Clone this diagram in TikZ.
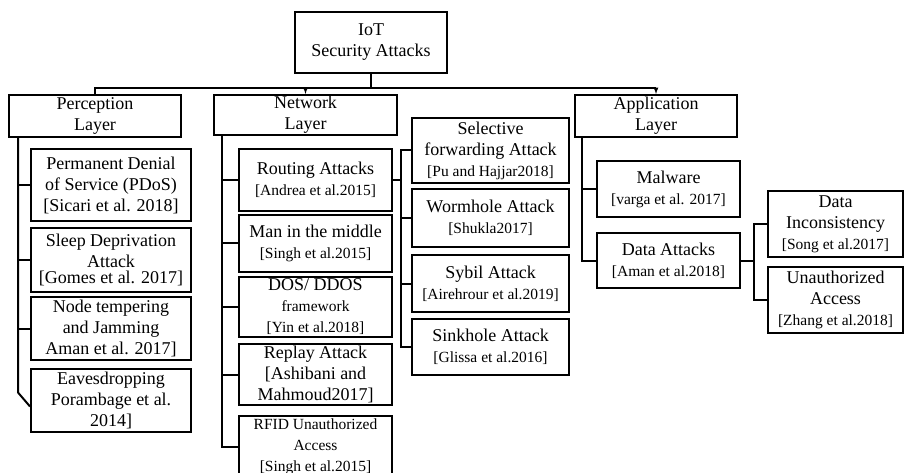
\documentclass[tikz,border=0pt]{standalone}
\usepackage{fontspec}
\setmainfont{Liberation Serif}

\newcommand{\srcref}[1]{{\fontsize{15.5}{18}\selectfont #1}}

\begin{document}
\begin{tikzpicture}[x=1pt, y=-1pt, line width=2pt,
    box/.style={draw, align=center, inner sep=0pt, font=\fontsize{18}{21}\selectfont}]
    \useasboundingbox (0,0) rectangle (905,473);

    % Root and the three layers
    \node[box, minimum width=152pt, minimum height=61pt] (root) at (371,42.5) {IoT\\Security Attacks};
    \node[box, minimum width=172pt, minimum height=42pt] (perc) at (95,116) {Perception\\Layer};
    \node[box, minimum width=183pt, minimum height=40pt] (net) at (305.5,115) {Network\\Layer};
    \node[box, minimum width=162pt, minimum height=42pt] (app) at (656,116) {Application\\Layer};

    % Perception layer
    \node[box, minimum width=160pt, minimum height=72pt] (pdos) at (111,185) {Permanent Denial\\of Service (PDoS)\\{}[Sicari et al. 2018]};
    \node[box, minimum width=160pt, minimum height=64pt] (sleep) at (111,260) {Sleep Deprivation\\Attack\\[-5pt]{}[Gomes et al. 2017]};
    \node[box, minimum width=160pt, minimum height=63pt] (tamper) at (111,328.5) {Node tempering\\and Jamming\\Aman et al. 2017]};
    \node[box, minimum width=160pt, minimum height=63pt] (eaves) at (111,400.5) {Eavesdropping\\Porambage et al.\\2014]};

    % Network layer
    \node[box, minimum width=153pt, minimum height=62pt] (routing) at (315.5,180) {Routing Attacks\\\srcref{[Andrea et al.2015]}};
    \node[box, minimum width=153pt, minimum height=57pt] (mitm) at (315.5,243.5) {Man in the middle\\\srcref{[Singh et al.2015]}};
    \node[box, minimum width=153pt, minimum height=60pt] (dos) at (315.5,307) {DOS/ DDOS\\\srcref{framework}\\\srcref{[Yin et al.2018]}};
    \node[box, minimum width=153pt, minimum height=61pt] (replay) at (315.5,374.5) {Replay Attack\\{}[Ashibani and\\Mahmoud2017]};
    \node[box, minimum width=153pt, minimum height=62pt] (rfid) at (315.5,447) {\srcref{RFID Unauthorized}\\\srcref{Access}\\\srcref{[Singh et al.2015]}};

    % Routing attacks
    \node[box, minimum width=157pt, minimum height=65pt] (sel) at (490.5,150.5) {Selective\\forwarding Attack\\\srcref{[Pu and Hajjar2018]}};
    \node[box, minimum width=157pt, minimum height=58pt] (worm) at (490.5,218) {Wormhole Attack\\\srcref{[Shukla2017]}};
    \node[box, minimum width=157pt, minimum height=57pt] (sybil) at (490.5,283.5) {Sybil Attack\\\srcref{[Airehrour et al.2019]}};
    \node[box, minimum width=157pt, minimum height=56pt] (sink) at (490.5,347) {Sinkhole Attack\\\srcref{[Glissa et al.2016]}};

    % Application layer
    \node[box, minimum width=143pt, minimum height=56pt] (malware) at (668.5,189) {Malware\\\srcref{[varga et al. 2017]}};
    \node[box, minimum width=143pt, minimum height=55pt] (data) at (668.5,260.5) {Data Attacks\\\srcref{[Aman et al.2018]}};
    \node[box, minimum width=135pt, minimum height=66pt] (incons) at (835.5,224) {Data\\Inconsistency\\\srcref{[Song et al.2017]}};
    \node[box, minimum width=135pt, minimum height=66pt] (unauth) at (835.5,300) {Unauthorized\\Access\\\srcref{[Zhang et al.2018]}};

    % Top bus
    \coordinate (bus) at (371,88);
    \draw (root.south) -- (bus);
    \draw (perc.north) -- (perc.north |- bus) -- (app.north |- bus);
    \draw[line width=1.2pt, -latex] (net.north |- bus) -- (net.north);
    \draw[line width=1.2pt, -latex] (app.north |- bus) -- (app.north);

    % Spines
    \coordinate (pspine) at ([xshift=10pt]perc.south west);
    \coordinate (nspine) at ([xshift=9pt]net.south west);
    \coordinate (mspine) at ([xshift=-10pt]sel.west);
    \coordinate (aspine) at ([xshift=8pt]app.south west);
    \coordinate (dspine) at ([xshift=-13pt]incons.west);

    \draw (pspine) -- ([yshift=8pt]pspine |- eaves.west) -- ([yshift=-6pt]eaves.west);
    \foreach \b in {pdos,sleep,tamper}
        \draw (\b.west) -- (\b.west -| pspine);

    \draw (nspine) -- (nspine |- rfid.west) -- (rfid.west);
    \foreach \b in {routing,mitm,dos,replay}
        \draw (\b.west) -- (\b.west -| nspine);

    \draw (sel.west) -- (mspine) -- (mspine |- sink.west) -- (sink.west);
    \draw (routing.east) -- (routing.east -| mspine);
    \foreach \b in {worm,sybil}
        \draw (\b.west) -- (\b.west -| mspine);

    \draw (aspine) -- (aspine |- data.west) -- (data.west);
    \draw (malware.west) -- (malware.west -| aspine);

    \draw (incons.west) -- (dspine) -- (dspine |- unauth.west) -- (unauth.west);
    \draw (data.east) -- (data.east -| dspine);
\end{tikzpicture}
\end{document}
